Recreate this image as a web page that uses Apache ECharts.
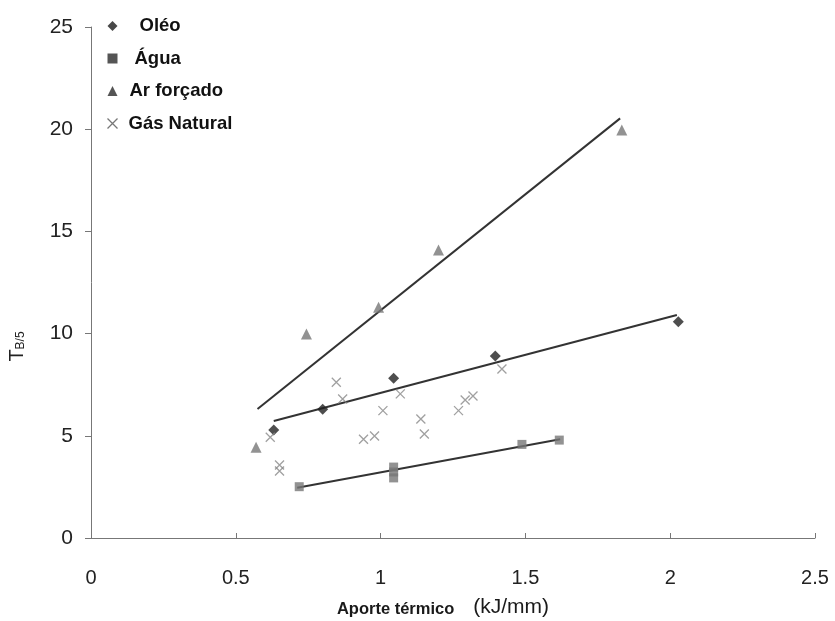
<!DOCTYPE html>
<html>
<head>
<meta charset="utf-8">
<script src="https://cdn.jsdelivr.net/npm/echarts@6/dist/echarts.min.js"></script>
<style>html,body{margin:0;padding:0;background:#fff}#c{width:835px;height:621px}</style>
</head>
<body>
<div id="c"></div>
<script>
const xTicks = [0, 0.5, 1, 1.5, 2, 2.5];
const yTicks = [0, 5, 10, 15, 20, 25];

const seriesNames = ['Oléo', 'Água', 'Ar forçado', 'Gás Natural'];

const oleo = [[0.631, 5.28], [0.800, 6.30], [1.045, 7.81], [1.396, 8.90], [2.028, 10.58]];
const agua = [[0.719, 2.51], [1.045, 3.47], [1.045, 3.23], [1.045, 2.94], [1.488, 4.58], [1.617, 4.79]];
const arForcado = [[0.570, 4.44], [0.744, 9.98], [0.993, 11.29], [1.200, 14.09], [1.833, 19.96]];
const gasNatural = [[0.619, 4.93], [0.651, 3.57], [0.651, 3.28], [0.847, 7.62], [0.869, 6.80],
  [0.941, 4.83], [0.979, 4.99], [1.008, 6.23], [1.068, 7.05], [1.139, 5.82], [1.151, 5.09],
  [1.269, 6.23], [1.292, 6.75], [1.319, 6.95], [1.419, 8.27]];

const trendAr = [[0.575, 6.31], [1.827, 20.53]];
const trendOleo = [[0.631, 5.72], [2.023, 10.91]];
const trendAgua = [[0.712, 2.46], [1.620, 4.83]];

const crossPath = 'path://M0,0L10,10M10,0L0,10';

const chart = echarts.init(document.getElementById('c'), null, {renderer: 'canvas'});
const font = '"Liberation Sans", Arial, sans-serif';

function trend(data) {
  return {
    type: 'line', data: data, symbol: 'none', silent: true,
    lineStyle: {color: '#333', width: 2}, z: 1
  };
}
function rs(pad) {
  return {padding: [0, 0, 0, pad], fontSize: 18.5, fontWeight: 'bold', fontFamily: font, color: '#111', lineHeight: 20};
}

chart.setOption({
  animation: false,
  backgroundColor: '#fff',
  grid: {left: 91, right: 20, top: 27, bottom: 83, containLabel: false, outerBoundsMode: 'none'},
  legend: {
    orient: 'vertical', left: 100, top: 11, itemGap: 12.5,
    itemWidth: 10, itemHeight: 10,
    data: [
      {name: seriesNames[0], itemStyle: {color: '#1a1a1a'}},
      {name: seriesNames[1], itemStyle: {color: '#2a2a2a'}},
      {name: seriesNames[2], itemStyle: {color: '#2a2a2a'}},
      {name: seriesNames[3], itemStyle: {color: 'none', borderColor: '#555', borderWidth: 1.3}}
    ],
    formatter: function (n) {
      const k = {'Oléo': 'p1', 'Água': 'p2', 'Ar forçado': 'p3', 'Gás Natural': 'p4'}[n];
      return '{' + k + '|' + n + '}';
    },
    textStyle: {
      fontFamily: font, fontSize: 18.5, fontWeight: 'bold', color: '#111', lineHeight: 20,
      rich: {p1: rs(17), p2: rs(12), p3: rs(7), p4: rs(6)}
    }
  },
  xAxis: {
    type: 'value', min: xTicks[0], max: xTicks[xTicks.length - 1], interval: 0.5,
    name: '{b|Aporte térmico}{n|(kJ/mm)}',
    nameLocation: 'middle', nameGap: 56,
    nameTextStyle: {
      padding: [0, 20, 0, 0],
      rich: {
        b: {fontFamily: font, fontSize: 16.5, fontWeight: 'bold', color: '#1a1a1a', lineHeight: 24, verticalAlign: 'bottom'},
        n: {fontFamily: font, fontSize: 21, color: '#1a1a1a', padding: [0, 0, 0, 19], lineHeight: 24, verticalAlign: 'bottom'}
      }
    },
    splitLine: {show: false},
    axisLine: {lineStyle: {color: '#777', width: 1}},
    axisTick: {inside: true, length: 5, lineStyle: {color: '#777'}},
    axisLabel: {fontFamily: font, fontSize: 20, color: '#222', margin: 30}
  },
  yAxis: {
    type: 'value', min: yTicks[0], max: yTicks[yTicks.length - 1], interval: 5,
    name: '{t|T}{s|B/5}',
    nameLocation: 'middle', nameGap: 64, nameRotate: 90,
    nameTextStyle: {
      padding: [0, 128, 0, 0],
      rich: {
        t: {fontFamily: font, fontSize: 20, color: '#222', lineHeight: 20, verticalAlign: 'bottom'},
        s: {fontFamily: font, fontSize: 12, color: '#222', lineHeight: 20, verticalAlign: 'bottom'}
      }
    },
    splitLine: {show: false},
    axisLine: {show: true, lineStyle: {color: '#777', width: 1}},
    axisTick: {show: true, length: 6, lineStyle: {color: '#777'}},
    axisLabel: {fontFamily: font, fontSize: 21, color: '#222', margin: 18}
  },
  series: [
    {name: seriesNames[0], type: 'scatter', data: oleo, symbol: 'diamond', symbolSize: 11,
      itemStyle: {color: '#222'}, z: 3},
    {name: seriesNames[1], type: 'scatter', data: agua, symbol: 'rect', symbolSize: 9,
      itemStyle: {color: '#777'}, z: 3},
    {name: seriesNames[2], type: 'scatter', data: arForcado, symbol: 'triangle', symbolSize: 11,
      itemStyle: {color: '#777'}, z: 3},
    {name: seriesNames[3], type: 'scatter', data: gasNatural, symbol: crossPath, symbolSize: 9,
      itemStyle: {color: 'none', borderColor: '#888', borderWidth: 1.3}, z: 3},
    trend(trendAr), trend(trendOleo), trend(trendAgua)
  ]
});
</script>
</body>
</html>
